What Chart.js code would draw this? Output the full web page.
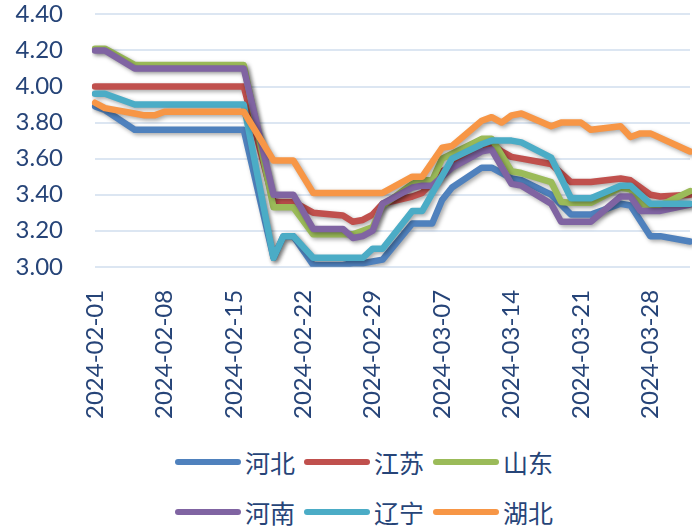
<!DOCTYPE html>
<html>
<head>
<meta charset="utf-8">
<script src="https://cdn.jsdelivr.net/npm/chart.js@4/dist/chart.umd.min.js"></script>
<style>
  body { margin: 0; background: #fff; }
  #wrap { position: relative; width: 692px; height: 526px; }
  #legend { position: absolute; left: 175px; top: 437px; width: 400px; display: flex; flex-wrap: wrap; }
  .item { width: 129px; height: 50px; display: flex; align-items: center; }
  .swatch { width: 66px; height: 6px; border-radius: 3px; margin-right: 4px; }
  .txt { font: 25px "Noto Sans CJK SC"; color: #264478; }
</style>
</head>
<body>
<div id="wrap">
  <canvas id="grafica" width="692" height="419"></canvas>
  <div id="legend"></div>
</div>
<script>
const _ = null

// 2024-02-01 .. 2024-04-01, one label per day
const labels = [
  "2024-02-01","2024-02-02","2024-02-03","2024-02-04","2024-02-05","2024-02-06","2024-02-07",
  "2024-02-08","2024-02-09","2024-02-10","2024-02-11","2024-02-12","2024-02-13","2024-02-14",
  "2024-02-15","2024-02-16","2024-02-17","2024-02-18","2024-02-19","2024-02-20","2024-02-21",
  "2024-02-22","2024-02-23","2024-02-24","2024-02-25","2024-02-26","2024-02-27","2024-02-28",
  "2024-02-29","2024-03-01","2024-03-02","2024-03-03","2024-03-04","2024-03-05","2024-03-06",
  "2024-03-07","2024-03-08","2024-03-09","2024-03-10","2024-03-11","2024-03-12","2024-03-13",
  "2024-03-14","2024-03-15","2024-03-16","2024-03-17","2024-03-18","2024-03-19","2024-03-20",
  "2024-03-21","2024-03-22","2024-03-23","2024-03-24","2024-03-25","2024-03-26","2024-03-27",
  "2024-03-28","2024-03-29","2024-03-30","2024-03-31","2024-04-01"
]

const names = ["河北", "江苏", "山东", "河南", "辽宁", "湖北"]
const colors = ["#4F81BD", "#C0504D", "#9BBB59", "#8064A2", "#4BACC6", "#F79646"]

//             0    1    2  3  4    5    6    7    8  9  10 11 12 13 14 15   16 17 18   19   20   21 22   23 24 25    26   27   28   29   30 31 32   33   34   35   36   37 38 39   40   41   42   43   44 45 46   47   48   49   50   51 52 53   54   55   56   57   58 59 60
const hebei    = [3.89,3.87,_,_,3.76,_,   _,   _,   _,_,_,_,_,_,_,3.76,_,_,3.05,3.17,3.17,_,3.01,_,_,3.01, 3.02,3.02,_,   3.04,_,_,3.24,_,   3.24,3.37,3.44,_,_,3.55,3.55,_,   3.49,3.48,_,_,3.40,_,   3.29,_,   3.29,_,_,3.35,3.34,_,   3.17,3.17,_,_,3.14]
const jiangsu  = [4.00,_,   _,_,_,   _,   _,   _,   _,_,_,_,_,_,_,4.00,_,_,3.36,_,   3.36,_,3.30,_,_,3.285,3.25,3.26,3.29,3.35,_,_,3.39,3.41,_,   3.53,3.56,_,_,3.67,3.68,3.64,3.61,3.60,_,_,3.57,_,   3.47,_,   3.47,_,_,3.49,3.48,_,   3.40,3.39,_,_,3.40]
const shandong = [4.21,4.21,_,_,4.12,_,   _,   _,   _,_,_,_,_,_,_,4.12,_,_,3.33,_,   3.33,_,3.18,_,_,3.18, 3.18,3.20,3.22,3.34,_,_,3.46,3.48,3.48,3.60,_,   _,_,3.71,3.71,_,   3.53,3.52,_,_,3.47,3.36,3.355,_,  3.355,_,_,3.44,3.43,3.35,3.34,3.34,_,_,3.42]
const henan    = [4.20,4.20,_,_,4.10,_,   _,   _,   _,_,_,_,_,_,_,4.10,_,_,3.40,_,   3.40,_,3.21,_,_,3.21, 3.16,3.17,3.20,3.35,_,_,3.44,3.45,3.45,_,   3.55,_,_,3.64,3.65,_,   3.46,3.45,_,_,3.35,3.25,3.25,_,   3.25,_,_,3.39,3.39,3.31,3.31,3.31,_,_,3.345]
const liaoning = [3.96,3.96,_,_,3.90,_,   _,   _,   _,_,_,_,_,_,_,3.90,_,_,3.05,3.17,3.17,_,3.05,_,_,3.05, 3.05,3.05,3.10,3.10,_,_,3.31,3.31,_,   _,   3.60,_,_,3.68,3.70,3.70,3.70,3.69,_,_,3.605,_,  3.38,_,   3.38,_,_,3.45,3.45,_,   3.35,3.35,_,_,3.35]
const hubei    = [3.91,3.88,_,_,3.85,3.84,3.84,3.86,_,_,_,_,_,_,_,3.86,_,_,3.59,_,   3.59,_,3.41,_,_,3.41, _,   _,   _,   3.41,_,_,3.50,3.50,_,   3.66,3.67,_,_,3.81,3.83,3.80,3.84,3.85,_,_,3.78,3.80,_,   3.80,3.76,_,_,3.78,3.72,3.74,3.74,_,   _,_,3.64]

const series = [hebei, jiangsu, shandong, henan, liaoning, hubei]

const textColor = "#264478"

const datasets = series.map((values, i) => ({
    label: names[i],
    data: values,
    borderColor: colors[i],
    backgroundColor: colors[i],
    borderWidth: 6.5,
    pointRadius: 0,
    tension: 0,
    spanGaps: true,
    borderJoinStyle: "round",
    borderCapStyle: "round",
    order: series.length - i   // later series drawn on top, like the original
}))

// soft drop shadow under every line
const shadow = {
    id: "shadow",
    beforeDatasetDraw(chart) {
        const ctx = chart.ctx
        ctx.save()
        ctx.shadowColor = "rgba(0,0,0,0.35)"
        ctx.shadowBlur = 4
        ctx.shadowOffsetX = 2
        ctx.shadowOffsetY = 2
    },
    afterDatasetDraw(chart) {
        chart.ctx.restore()
    }
}

const graph = document.querySelector("#grafica")

const config = {
    type: "line",
    data: { labels: labels, datasets: datasets },
    options: {
        responsive: false,
        animation: false,
        devicePixelRatio: 1,
        layout: { padding: { top: 4, right: 2, left: 0, bottom: 0 } },
        plugins: { legend: { display: false }, tooltip: { enabled: false } },
        scales: {
            x: {
                afterFit: s => { s.paddingLeft = 0; s.paddingRight = 0 },
                grid: { color: "rgba(0,0,0,0)", drawTicks: true, tickLength: 23, tickColor: "rgba(0,0,0,0)" },
                border: { display: false },
                ticks: {
                    autoSkip: false,
                    minRotation: 90,
                    maxRotation: 90,
                    padding: 0,
                    color: textColor,
                    font: { family: "Lato", size: 24 },
                    callback: (v, i) => (i % 7 === 0 ? labels[i] : "")
                }
            },
            y: {
                min: 3,
                max: 4.4,
                afterFit: s => { s.width = 95 },
                grid: { color: "#DCE6F2", lineWidth: 2, drawTicks: true, tickLength: 32, tickColor: "rgba(0,0,0,0)" },
                border: { display: false },
                ticks: {
                    autoSkip: false,
                    stepSize: 0.2,
                    padding: 0,
                    color: textColor,
                    font: { family: "Lato", size: 24 },
                    callback: v => v.toFixed(2)
                }
            }
        }
    },
    plugins: [shadow]
}

const chart = new Chart(graph, config)

// legend in two rows of three, built from the datasets
const legend = document.querySelector("#legend")
chart.data.datasets.forEach(ds => {
    const item = document.createElement("div")
    item.className = "item"
    item.innerHTML = '<span class="swatch" style="background:' + ds.borderColor + '"></span><span class="txt">' + ds.label + "</span>"
    legend.appendChild(item)
})
</script>
</body>
</html>
